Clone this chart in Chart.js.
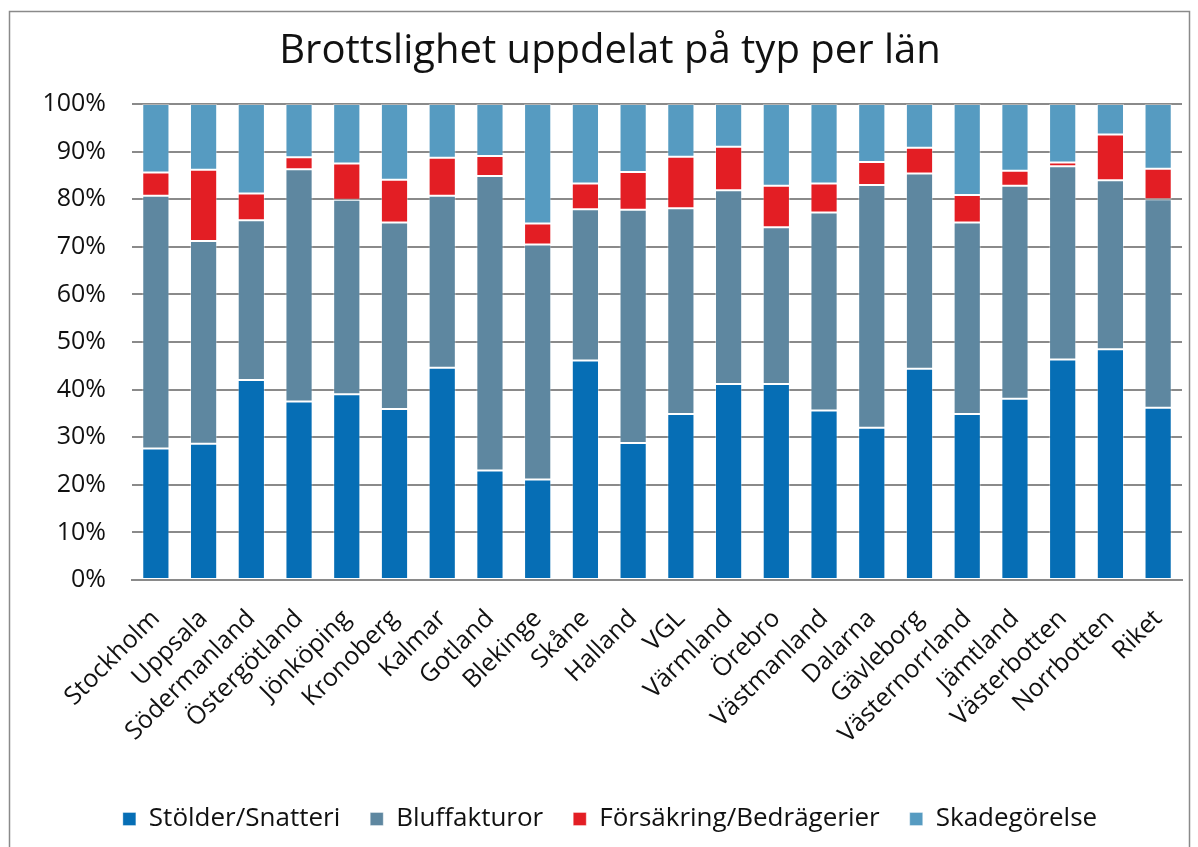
<!DOCTYPE html>
<html>
<head>
<meta charset="utf-8">
<script src="https://cdn.jsdelivr.net/npm/chart.js@4.4.1/dist/chart.umd.min.js"></script>
<style>
html,body{margin:0;padding:0;background:#fff;}
#wrap{width:1198px;height:847px;position:relative;}
</style>
</head>
<body>
<div id="wrap"><canvas id="c" width="1198" height="847"></canvas></div>
<script>
const categories = ["Stockholm","Uppsala","Södermanland","Östergötland","Jönköping","Kronoberg","Kalmar","Gotland","Blekinge","Skåne","Halland","VGL","Värmland","Örebro","Västmanland","Dalarna","Gävleborg","Västernorrland","Jämtland","Västerbotten","Norrbotten","Riket"];
const stolder    = [27.6,28.6,42.0,37.5,39.0,35.9,44.6,23.0,21.1,46.1,28.8,34.9,41.2,41.2,35.6,32.0,44.4,34.9,38.1,46.3,48.5,36.2];
const bluff      = [53.1,42.6,33.6,48.8,40.9,39.2,36.1,61.9,49.4,31.8,49.0,43.2,40.7,32.9,41.6,51.0,41.0,40.2,44.7,40.6,35.5,43.8];
const forsakring = [4.9,15.0,5.6,2.5,7.6,9.0,8.0,4.2,4.4,5.4,7.9,10.8,9.1,8.7,6.1,4.8,5.4,5.8,3.2,0.8,9.6,6.4];
const skade      = [14.4,13.8,18.8,11.2,12.5,15.9,11.3,10.9,25.1,16.7,14.3,11.1,9.0,17.2,16.7,12.2,9.2,19.1,14.0,12.3,6.4,13.6];
const seriesNames = ["Stölder/Snatteri","Bluffakturor","Försäkring/Bedrägerier","Skadegörelse"];
const yTicks = [0,10,20,30,40,50,60,70,80,90,100];

const FONT = "'Open Sans', 'DejaVu Sans', sans-serif";
const colors = ["#066EB5","#5E87A0","#E31E24","#569BC1"];

const borderPlugin = {
  id: 'outerBorder',
  beforeDraw(chart) {
    const ctx = chart.ctx;
    ctx.save();
    ctx.fillStyle = '#fff';
    ctx.fillRect(0,0,chart.width,chart.height);
    ctx.strokeStyle = '#8a8a8a';
    ctx.lineWidth = 1.5;
    ctx.strokeRect(9.5, 11.5, 1180, 850);
    ctx.restore();
  }
};

const mk = (label, data, i) => ({
  label, data,
  backgroundColor: colors[i],
  borderColor: 'rgba(255,255,255,0.35)',
  borderWidth: 1,
  borderSkipped: false,
  barPercentage: 0.57,
  categoryPercentage: 1.0
});

new Chart(document.getElementById('c'), {
  type: 'bar',
  data: {
    labels: categories,
    datasets: [
      mk(seriesNames[0], stolder, 0),
      mk(seriesNames[1], bluff, 1),
      mk(seriesNames[2], forsakring, 2),
      mk(seriesNames[3], skade, 3)
    ]
  },
  options: {
    responsive: false,
    animation: false,
    devicePixelRatio: 1,
    layout: { padding: { left: 38, right: 16, top: 20, bottom: 5 } },
    plugins: {
      title: {
        display: true,
        text: 'Brottslighet uppdelat på typ per län',
        color: '#111',
        font: { family: FONT, size: 40, weight: 'normal', lineHeight: 1.2 },
        padding: { top: 8, bottom: 28 }
      },
      legend: {
        position: 'bottom',
        labels: {
          color: '#111',
          font: { family: FONT, size: 26 },
          boxWidth: 13, boxHeight: 13,
          padding: 30
        }
      },
      tooltip: { enabled: false }
    },
    scales: {
      x: {
        stacked: true,
        afterFit(scale) { scale.height = 196; },
        grid: { display: false },
        border: { display: true, color: '#8a8a8a', width: 2 },
        ticks: {
          color: '#111',
          font: { family: FONT, size: 25 },
          minRotation: 45, maxRotation: 45,
          autoSkip: false,
          padding: 16
        }
      },
      y: {
        stacked: true,
        min: 0, max: 100,
        afterFit(scale) { scale.width = 94; },
        afterBuildTicks(scale) { scale.ticks = yTicks.map(v => ({ value: v })); },
        grid: { color: '#8a8a8a', lineWidth: 2, drawTicks: false },
        border: { display: false },
        ticks: {
          color: '#111',
          font: { family: FONT, size: 25 },
          padding: 26,
          callback: v => v + '%'
        }
      }
    }
  },
  plugins: [borderPlugin]
});
</script>
</body>
</html>
